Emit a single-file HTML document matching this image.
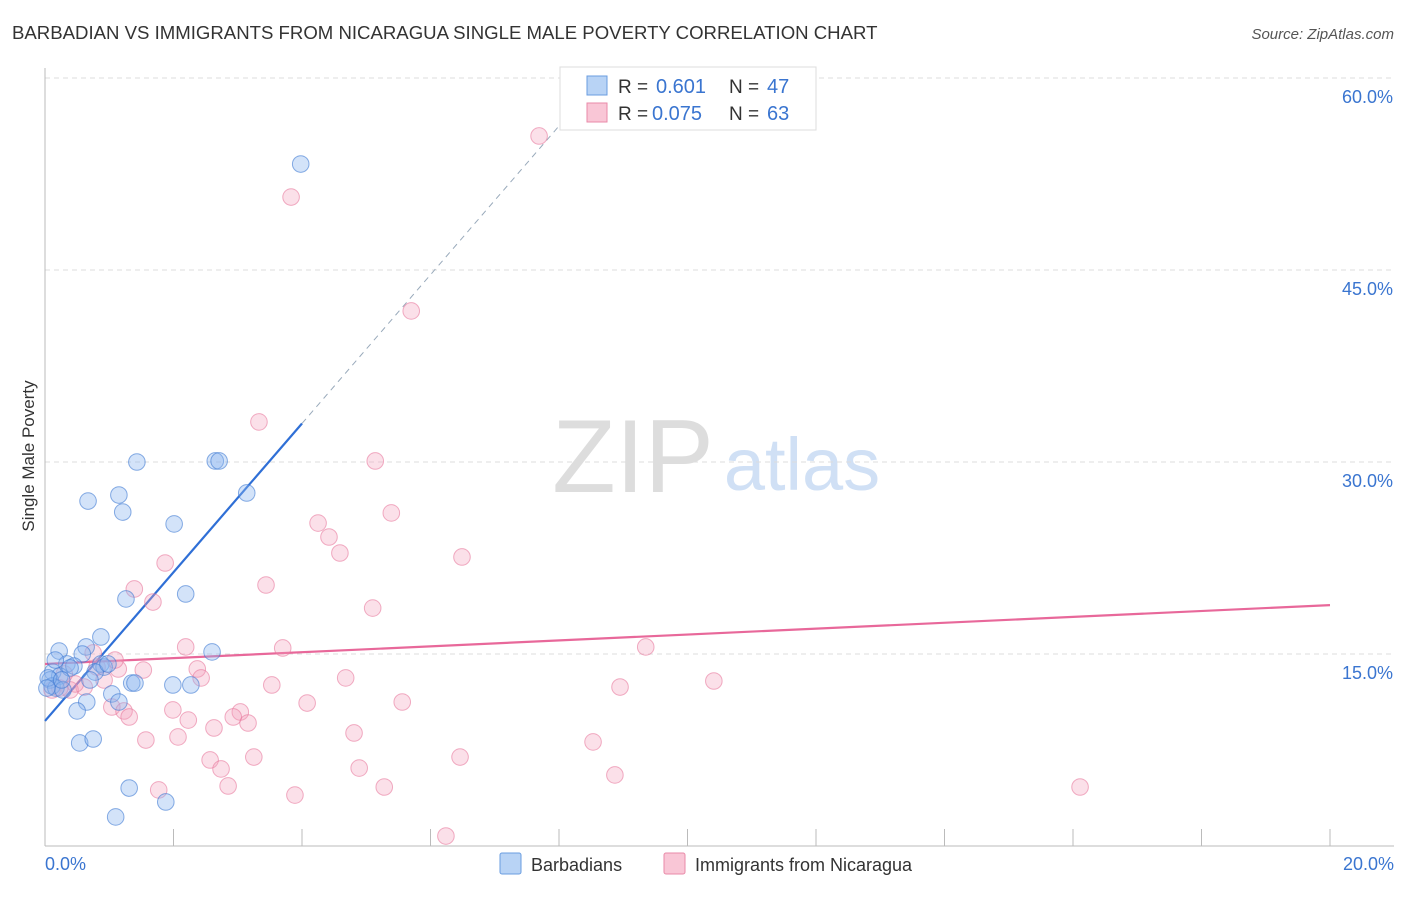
<!DOCTYPE html>
<html><head><meta charset="utf-8"><style>
body{margin:0;background:#fff;font-family:"Liberation Sans",sans-serif;}
svg text{font-family:"Liberation Sans",sans-serif;}
</style></head><body>
<svg id="chart" width="1406" height="892" xmlns="http://www.w3.org/2000/svg">
<text x="12" y="39" font-size="18.6" fill="#333">BARBADIAN VS IMMIGRANTS FROM NICARAGUA SINGLE MALE POVERTY CORRELATION CHART</text>
<text x="1394" y="39" font-size="15" fill="#555" text-anchor="end" font-style="italic">Source: ZipAtlas.com</text>
<g>
<text x="633" y="492" font-size="104" fill="#ddd" text-anchor="middle" font-family="Liberation Serif,serif">ZIP</text>
<text x="802" y="490" font-size="74" fill="#d0e0f5" text-anchor="middle">atlas</text>
</g>
<g id="grid"></g>
<g id="axes"></g>
<g id="lines"></g>
<g id="pts"></g>
<text transform="translate(34,456) rotate(-90)" font-size="17" fill="#333" text-anchor="middle">Single Male Poverty</text>
<g>
<rect x="560" y="67" width="256" height="63" fill="#fff" stroke="#ddd"/>
<rect x="587" y="76" width="20" height="19" fill="#b8d3f5" stroke="#6a9de0"/>
<rect x="587" y="103" width="20" height="19" fill="#f9c6d6" stroke="#e98aa8"/>
<text x="618" y="93" font-size="19" fill="#333">R =</text>
<text x="656" y="93" font-size="20" fill="#3a75d0">0.601</text>
<text x="729" y="93" font-size="19" fill="#333">N =</text>
<text x="767" y="93" font-size="20" fill="#3a75d0">47</text>
<text x="618" y="120" font-size="19" fill="#333">R =</text>
<text x="652" y="120" font-size="20" fill="#3a75d0">0.075</text>
<text x="729" y="120" font-size="19" fill="#333">N =</text>
<text x="767" y="120" font-size="20" fill="#3a75d0">63</text>
</g>
<g>
<rect x="500" y="853" width="21" height="21" fill="#b8d3f5" stroke="#6a9de0" rx="2"/>
<text x="531" y="871" font-size="18" fill="#333">Barbadians</text>
<rect x="664" y="853" width="21" height="21" fill="#f9c6d6" stroke="#e98aa8" rx="2"/>
<text x="695" y="871" font-size="18" fill="#333">Immigrants from Nicaragua</text>
</g>
</svg>
<script>
const yTicks=[15,30,45,60];
const xTickLabels=["0.0%","20.0%"];
const blueX=[3.98,1.43,2.65,2.71,0.67,1.15,1.21,2.01,3.14,1.26,2.19,2.6,0.22,0.87,0.64,0.58,0.34,0.45,0.87,0.92,0.12,0.23,0.08,0.78,1.35,1.4,1.99,2.27,1.04,1.15,0.65,0.5,0.54,0.75,1.31,1.88,1.1,0.11,0.17,0.28,0.39,0.05,0.7,0.98,0.26,0.03,0.16];
const blueY=[53.28,30.0,30.08,30.08,26.95,27.42,26.09,25.16,27.58,19.3,19.69,15.16,15.23,16.33,15.55,15.0,14.22,14.06,14.22,13.98,13.59,13.28,12.97,13.59,12.73,12.73,12.58,12.58,11.88,11.25,11.25,10.55,8.05,8.36,4.53,3.44,2.27,12.5,12.34,12.19,13.91,13.13,12.97,14.22,12.97,12.34,14.53];
const pinkX=[7.69,3.83,5.7,3.33,5.14,5.39,4.25,4.42,4.59,6.49,1.87,3.44,1.39,1.68,5.1,2.19,3.7,9.35,2.37,1.53,1.14,2.43,4.68,3.53,10.41,8.95,4.08,5.56,1.99,1.04,1.23,2.23,1.31,3.04,2.93,3.16,2.63,4.81,2.07,1.57,8.53,6.46,3.25,2.57,2.74,4.89,8.87,1.77,2.85,5.28,3.89,16.11,6.24,0.81,0.61,0.39,0.23,0.11,0.47,0.92,0.75,1.09,0.3];
const pinkY=[55.47,50.7,41.8,33.13,30.08,26.02,25.23,24.14,22.89,22.58,22.11,20.39,20.08,19.06,18.59,15.55,15.47,15.55,13.83,13.75,13.83,13.13,13.13,12.58,12.89,12.42,11.17,11.25,10.63,10.86,10.55,9.84,10.08,10.47,10.08,9.61,9.22,8.83,8.52,8.28,8.13,6.95,6.95,6.72,6.02,6.09,5.55,4.38,4.69,4.61,3.98,4.61,0.78,13.98,12.42,12.19,12.34,12.19,12.66,12.97,15.08,14.53,13.44];
const blueFit=[9.77,5.81];
const pinkFit=[14.22,0.23];
const NS="http://www.w3.org/2000/svg";
const X=v=>45+v/20*1285, Y=v=>846-v/15*192;
function mk(t,a,p){const e=document.createElementNS(NS,t);for(const k in a)e.setAttribute(k,a[k]);p.appendChild(e);return e;}
const grid=document.getElementById('grid'),axes=document.getElementById('axes');
yTicks.forEach(t=>{
 const l=mk('line',{x1:45,x2:1394,y1:Y(t),y2:Y(t),stroke:'#ddd','stroke-dasharray':'5,4'},grid);
 
 
 const tx=mk('text',{x:1393,y:Y(t)+25,'font-size':18,fill:'#3a75d0','text-anchor':'end'},axes);
 tx.textContent=t.toFixed(1)+'%';
 
 
});
const xl=mk('line',{x1:45,x2:1394,y1:846,y2:846,stroke:'#bbb'},axes);


const yl=mk('line',{x1:45,x2:45,y1:68,y2:846,stroke:'#bbb'},axes);


for(let i=1;i<=10;i++){const t=mk('line',{x1:X(i*2),x2:X(i*2),y1:829,y2:846,stroke:'#bbb'},axes);
 
 }
[[0,xTickLabels[0],'start',45],[20,xTickLabels[1],'end',1394]].forEach(d=>{
 const t=mk('text',{x:d[3],y:870,'font-size':18,fill:'#3a75d0','text-anchor':d[2]},axes);t.textContent=d[1];
 
 });
const pts=document.getElementById('pts');
pinkX.forEach((x,i)=>{const c=mk('circle',{cx:X(x),cy:Y(pinkY[i]),r:8.3,fill:'rgba(244,160,188,0.32)',stroke:'rgba(232,120,156,0.6)','stroke-width':1},pts);
 
 });
blueX.forEach((x,i)=>{const c=mk('circle',{cx:X(x),cy:Y(blueY[i]),r:8.3,fill:'rgba(140,182,238,0.38)',stroke:'rgba(60,120,210,0.6)','stroke-width':1},pts);
 
 });
const lines=document.getElementById('lines');
const bx=4.0;
const b1=mk('line',{x1:X(0),y1:Y(blueFit[0]),x2:X(bx),y2:Y(blueFit[0]+blueFit[1]*bx),stroke:'#2f6fd6','stroke-width':2.2},lines);


const bx2=(60-blueFit[0])/blueFit[1];
const b2=mk('line',{x1:X(bx),y1:Y(blueFit[0]+blueFit[1]*bx),x2:X(bx2),y2:Y(60),stroke:'#9ab','stroke-width':1,'stroke-dasharray':'6,5'},lines);


const p1=mk('line',{x1:X(0),y1:Y(pinkFit[0]),x2:X(20),y2:Y(pinkFit[0]+pinkFit[1]*20),stroke:'#e8689a','stroke-width':2.2},lines);


</script>
</body></html>
